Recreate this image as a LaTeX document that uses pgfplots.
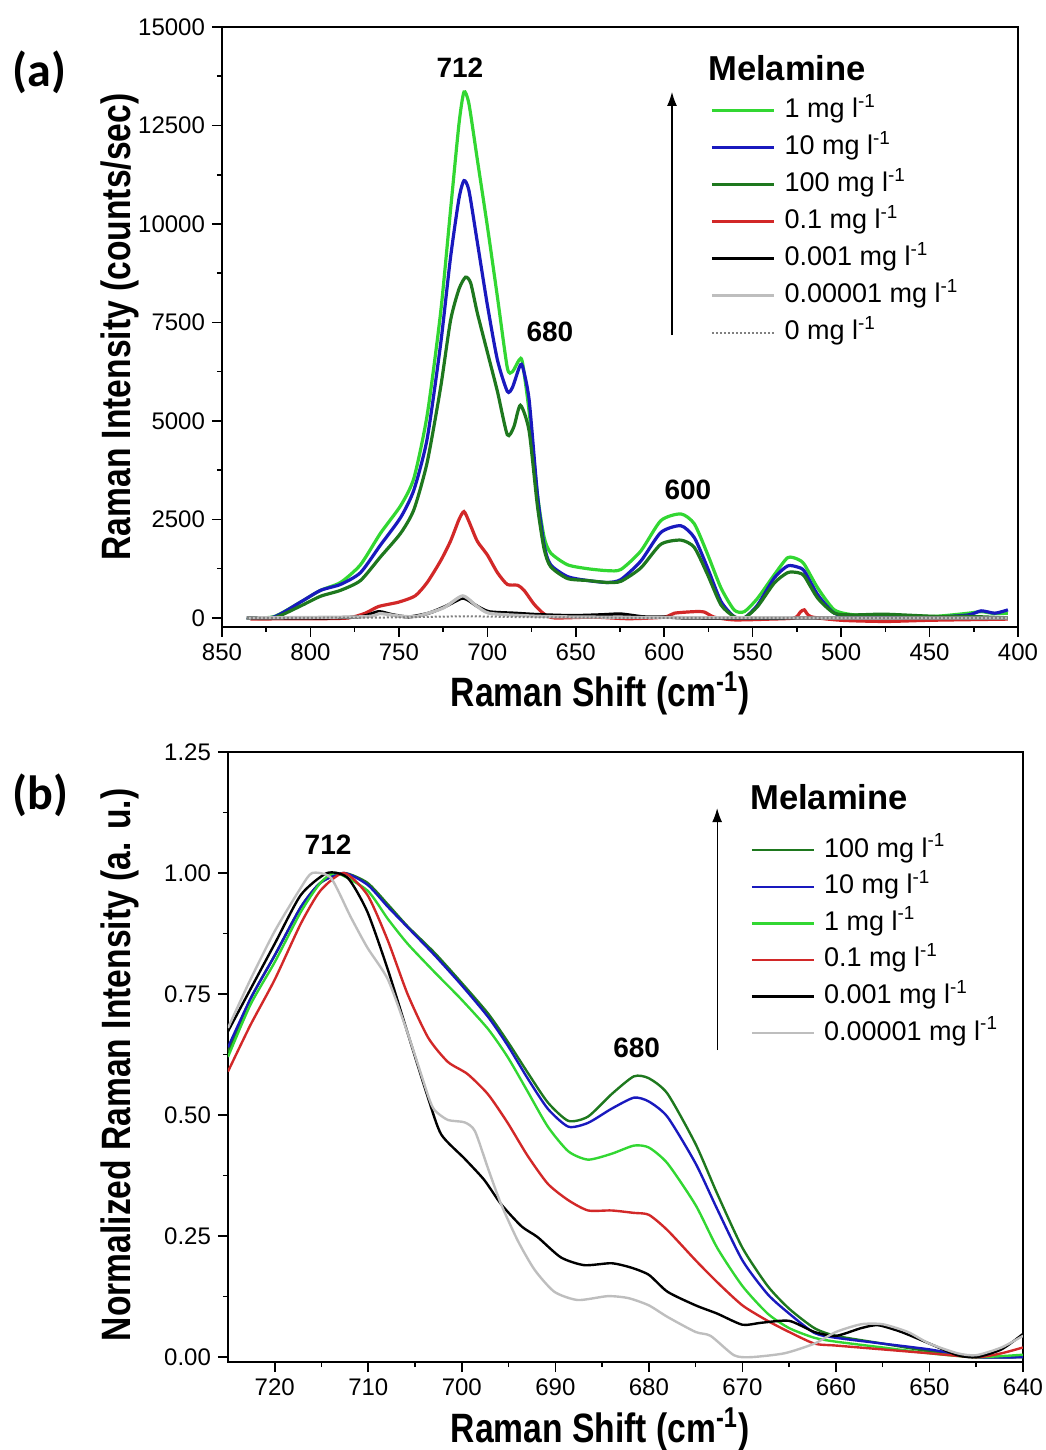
\documentclass[border=0pt]{standalone}
\usepackage{pgfplots}
\pgfplotsset{compat=1.18}
\usepackage{fontspec}
\setmainfont{Liberation Sans}
\newfontfamily\narrowfont[FakeStretch=0.82]{Liberation Sans}
\newfontfamily\panelfont{Carlito}
\usetikzlibrary{arrows.meta}
\definecolor{lgreen}{RGB}{50,215,50}
\definecolor{mblue}{RGB}{25,25,190}
\definecolor{dgreen}{RGB}{30,120,30}
\definecolor{mred}{RGB}{210,40,40}
\definecolor{lgray}{RGB}{190,190,190}
\pgfplotsset{
  ramanstyle/.style={
    scale only axis, x dir=reverse,
    tick align=outside, tick pos=left,
    major tick length=5pt, minor tick length=2.5pt,
    axis line style={line width=1pt},
    every tick/.style={black, line width=0.8pt},
    tick label style={font=\fontsize{12}{14}\selectfont},
    /pgf/number format/assume math mode=true,
    label style={font=\narrowfont\bfseries\fontsize{20.5}{24}\selectfont},
    legend cell align=left,
    legend image code/.code={\draw[##1] (0pt,0pt) -- (31pt,0pt);},
    every axis plot/.append style={smooth, tension=0.4},
  }
}
\begin{document}
\begin{tikzpicture}
\useasboundingbox (0,0) rectangle (522.5pt,725pt);
\node[font=\panelfont\bfseries\fontsize{24}{26}\selectfont, anchor=west, inner sep=0pt] at (6pt,689pt) {(a)};
\node[font=\panelfont\bfseries\fontsize{24}{26}\selectfont, anchor=west, inner sep=0pt] at (6pt,327.5pt) {(b)};

% ---------------- panel (a) ----------------
\begin{axis}[ramanstyle,
  at={(111pt,411.5pt)}, anchor=south west,
  width=398pt, height=300pt,
  xmin=400, xmax=850, ymin=-230, ymax=15000,
  xtick={400,450,...,850}, minor x tick num=1,
  ytick={0,2500,5000,7500,10000,12500,15000}, minor y tick num=1,
  scaled y ticks=false,
  yticklabel style={/pgf/number format/.cd, 1000 sep={}},
  xlabel={Raman Shift (cm\textsuperscript{-1})},
  ylabel={Raman Intensity (counts/sec)},
  xlabel style={at={(axis description cs:0.475,-0.11)}, anchor=center},
  ylabel style={at={(axis description cs:-0.128,0.5)}, anchor=center},
  legend style={at={(axis description cs:0.613,0.883)}, anchor=north west,
    draw=none, fill=none, inner sep=0pt, row sep=5.5pt, column sep=4.5pt,
    font=\fontsize{13.5}{16}\selectfont,
    nodes={inner sep=0pt, text height=10pt, text depth=3pt}},
]
\addplot[lgreen, line width=1.6pt] coordinates {
(835.8,0) (820.8,30) (805.7,400) (794.3,700) (783,900) (771.7,1350) (760.4,2150)
(749,2850) (741.5,3550) (734,5150) (726.4,7750) (720.8,10350) (716,12550) (713.2,13350)
(710.4,13050) (705.7,11650) (700,9950) (694.3,8150) (688.7,6350) (685.8,6250) (682,6550)
(680.2,6500) (676.4,5250) (671.7,3150) (667.9,2050) (664.2,1650) (654.7,1350) (643.4,1250)
(632.1,1200) (624.5,1230) (613.2,1700) (601.9,2470) (590.6,2640) (583,2390) (575.5,1620)
(567.9,760) (560.4,200) (554.7,160) (547.2,500) (537.7,1100) (530.2,1530) (524.5,1490)
(520.8,1360) (513.2,760) (503.8,205) (492.5,77) (475.5,80) (466,60) (447,40) (428,120)
(420.8,160) (413,110) (405.7,120)};
\addlegendentry{1 mg l\textsuperscript{-1}}
\addplot[mblue, line width=1.6pt] coordinates {
(836,0) (820.8,20) (805.7,400) (794.3,700) (783,850) (771.7,1150) (760.4,1850)
(749,2550) (741.5,3250) (734,4550) (726.4,6950) (720.8,9150) (716,10650) (713.2,11100)
(710.4,10850) (705.7,9550) (700,7950) (694.3,6550) (688.7,5750) (685.8,5850) (682,6350)
(680.2,6400) (676.4,5550) (671.7,3150) (667.9,1850) (664.2,1350) (654.7,1050) (643.4,950)
(632.1,900) (624.5,975) (613.2,1445) (601.9,2170) (590.6,2340) (583,2040) (575.5,1270)
(567.9,420) (560.4,30) (554.7,0) (547.2,330) (537.7,1020) (530.2,1320) (524.5,1290)
(520.8,1190) (513.2,590) (503.8,120) (492.5,35) (466,30) (447,20) (428,77) (420.8,180)
(413,120) (405.7,205)};
\addlegendentry{10 mg l\textsuperscript{-1}}
\addplot[dgreen, line width=1.6pt] coordinates {
(836,0) (820.8,0) (805.7,300) (794.3,550) (783,700) (771.7,950) (760.4,1550)
(749,2150) (741.5,2750) (734,3950) (726.4,5850) (720.8,7550) (716,8350) (712.3,8650)
(709.4,8500) (705.7,7750) (700,6750) (694.3,5750) (688.7,4650) (685,4850) (681.3,5400)
(676.4,4750) (671.7,2850) (667.9,1750) (664.2,1300) (654.7,1000) (643.4,950) (632.1,900)
(624.5,930) (613.2,1270) (601.9,1870) (590.6,1975) (583,1790) (575.5,1100) (567.9,330)
(560.4,30) (554.7,0) (547.2,290) (537.7,890) (530.2,1150) (524.5,1150) (520.8,1060)
(513.2,500) (503.8,120) (492.5,77) (475.5,95) (447,40) (428,40) (405.7,0)};
\addlegendentry{100 mg l\textsuperscript{-1}}
\addplot[mred, line width=1.6pt] coordinates {
(834,-30) (810,-20) (793.5,-20) (778.4,0) (769,120) (761.5,290) (750.2,400) (740.8,560)
(734,900) (726.4,1450) (720.8,1950) (716,2500) (713.2,2700) (710.4,2450) (705.7,1950)
(700,1600) (694.3,1150) (688.7,850) (683,830) (679.2,700) (673.6,350) (667.9,100)
(662,0) (640,20) (620,-20) (600,20) (594.3,120) (583,160) (577.4,150) (571.7,20)
(560.4,-50) (540,-30) (526.4,0) (523,150) (520.8,205) (517,30) (500,-60) (475,-90)
(450,-60) (405.7,-30)};
\addlegendentry{0.1 mg l\textsuperscript{-1}}
\addplot[black, line width=1.6pt] coordinates {
(836,0) (790,0) (770.9,35) (761.5,160) (754,85) (744.5,25) (733.2,120) (723.8,290)
(714.4,500) (710,430) (706.9,330) (699.3,160) (684.3,120) (671.1,85) (652.3,60)
(636,80) (624.5,100) (612,30) (598,20) (590,0) (560,-10) (500,0) (450,0) (405.7,0)};
\addlegendentry{0.001 mg l\textsuperscript{-1}}
\addplot[lgray, line width=1.6pt] coordinates {
(836,0) (770,30) (761,110) (750,50) (740,40) (725,250) (714,560) (706,300) (699,120)
(680,60) (660,30) (600,10) (500,0) (405.7,0)};
\addlegendentry{0.00001 mg l\textsuperscript{-1}}
\addplot[gray, densely dotted, line width=1pt] coordinates {
(836,0) (760,10) (714,40) (680,20) (650,10) (600,0) (500,0) (405.7,0)};
\addlegendentry{0 mg l\textsuperscript{-1}}
\node[font=\bfseries\fontsize{17.3}{20}\selectfont, anchor=west, inner sep=0pt] at (axis cs:575.3,13960) {Melamine};
\draw[-{Latex[length=7pt,width=5pt]}, line width=0.6pt] (axis cs:595.6,7180) -- (axis cs:595.6,13350);
\node[font=\bfseries\fontsize{14}{16}\selectfont] at (axis cs:715.5,13960) {712};
\node[font=\bfseries\fontsize{14}{16}\selectfont] at (axis cs:664.6,7260) {680};
\node[font=\bfseries\fontsize{14}{16}\selectfont] at (axis cs:586.6,3250) {600};
\end{axis}

% ---------------- panel (b) ----------------
\begin{axis}[ramanstyle,
  at={(114pt,44pt)}, anchor=south west,
  width=397.5pt, height=305pt,
  xmin=640, xmax=725, ymin=-0.01, ymax=1.25,
  xtick={640,650,...,720}, minor x tick num=1,
  ytick={0,0.25,0.5,0.75,1,1.25}, minor y tick num=1,
  yticklabel style={/pgf/number format/.cd, fixed, fixed zerofill, precision=2},
  xlabel={Raman Shift (cm\textsuperscript{-1})},
  ylabel={Normalized Raman Intensity (a. u.)},
  xlabel style={at={(axis description cs:0.468,-0.111)}, anchor=center},
  ylabel style={at={(axis description cs:-0.136,0.487)}, anchor=center},
  legend style={at={(axis description cs:0.657,0.861)}, anchor=north west,
    draw=none, fill=none, inner sep=0pt, row sep=5.3pt, column sep=4.5pt,
    font=\fontsize{13.5}{16}\selectfont,
    nodes={inner sep=0pt, text height=10pt, text depth=3pt}},
]
\addplot[dgreen, line width=1.2pt] coordinates {
(725,0.63) (722.6,0.74) (720,0.83) (717.2,0.93) (715.1,0.98) (712.6,1.0) (710.1,0.98)
(707.9,0.935) (705.8,0.89) (702.9,0.835) (700.1,0.775) (697.2,0.71) (695.1,0.652)
(693,0.589) (690.8,0.526) (688.6,0.488) (686.5,0.497) (684,0.543) (681.6,0.58)
(680,0.576) (678,0.544) (675,0.44) (672.7,0.338) (670,0.226) (667.3,0.147) (665,0.1)
(662.3,0.06) (660,0.044) (655,0.028) (650,0.012) (645,0.0) (640,0.0)};
\addlegendentry{100 mg l\textsuperscript{-1}}
\addplot[mblue, line width=1.2pt] coordinates {
(725,0.64) (722.6,0.74) (720,0.83) (717.2,0.93) (715.1,0.98) (712.6,1.0) (710.1,0.976)
(707.9,0.93) (705.8,0.888) (702.9,0.83) (700.1,0.77) (697.2,0.703) (695.1,0.644)
(693,0.577) (690.8,0.513) (688.6,0.476) (686.5,0.484) (684,0.513) (681.6,0.536)
(680,0.528) (678,0.496) (675,0.40) (672.7,0.306) (670,0.2) (667.3,0.13) (665,0.09)
(662.3,0.05) (660,0.04) (655,0.028) (650,0.016) (645,0.0) (640,0.0)};
\addlegendentry{10 mg l\textsuperscript{-1}}
\addplot[lgreen, line width=1.2pt] coordinates {
(725,0.62) (722.6,0.728) (720,0.816) (717.2,0.92) (715.1,0.98) (713.4,1.0) (710.1,0.964)
(707.9,0.905) (705.8,0.854) (702.9,0.795) (700.1,0.74) (697.2,0.678) (695.1,0.62)
(693,0.55) (690.8,0.476) (688.6,0.425) (686.5,0.408) (684,0.42) (681.6,0.437)
(680,0.433) (678,0.40) (675,0.314) (672.7,0.226) (670,0.147) (667.3,0.09) (665,0.06)
(662.3,0.04) (660,0.032) (655,0.02) (650,0.008) (645,0.0) (640,0.005)};
\addlegendentry{1 mg l\textsuperscript{-1}}
\addplot[mred, line width=1.2pt] coordinates {
(725,0.59) (722.6,0.686) (720,0.78) (717.2,0.896) (715.1,0.964) (712.6,1.0) (710.1,0.955)
(707.9,0.86) (705.8,0.75) (703.6,0.66) (701.5,0.61) (699.4,0.585) (697.2,0.543)
(695.1,0.484) (693,0.417) (690.8,0.358) (688.6,0.324) (686.5,0.303) (684,0.303)
(681.6,0.298) (680,0.294) (678,0.262) (675,0.2) (672.7,0.155) (670,0.107) (667.3,0.075)
(665,0.052) (662.3,0.028) (660,0.024) (655,0.016) (650,0.008) (645,0.0) (642.3,0.008) (640,0.02)};
\addlegendentry{0.1 mg l\textsuperscript{-1}}
\addplot[black, line width=1.2pt] coordinates {
(725,0.673) (722.6,0.76) (720,0.854) (717.2,0.955) (714.4,1.0) (712.2,0.99) (710.1,0.92)
(707.9,0.80) (705.8,0.67) (703.6,0.535) (702.2,0.46) (699.7,0.41) (697.6,0.366)
(695.8,0.316) (693.6,0.27) (691.9,0.248) (689.4,0.206) (686.9,0.19) (684,0.194)
(681.9,0.185) (680,0.17) (678,0.135) (675,0.107) (672.7,0.09) (670,0.067) (668,0.071)
(665,0.075) (662.3,0.052) (660,0.044) (657.3,0.06) (655.5,0.066) (653,0.052) (650,0.028)
(647,0.004) (645,0.0) (642.3,0.016) (640,0.048)};
\addlegendentry{0.001 mg l\textsuperscript{-1}}
\addplot[lgray, line width=1.2pt] coordinates {
(725,0.68) (722.6,0.78) (720,0.88) (717.2,0.97) (716,1.0) (714,0.99) (711.9,0.91)
(710.1,0.846) (707.9,0.78) (705.8,0.67) (703.6,0.54) (702.9,0.51) (701.5,0.49)
(699.7,0.485) (698.6,0.467) (697.2,0.39) (695.8,0.316) (694,0.24) (692.2,0.18)
(690.1,0.135) (687.6,0.118) (684.4,0.126) (682.2,0.122) (680,0.107) (678,0.083)
(675,0.052) (673.4,0.044) (670.9,0.004) (669.1,0.0) (665.5,0.008) (662.3,0.028)
(660,0.052) (657.3,0.068) (655,0.068) (652.3,0.052) (650,0.028) (647,0.008) (645,0.004)
(642.3,0.02) (640,0.044)};
\addlegendentry{0.00001 mg l\textsuperscript{-1}}
\node[font=\bfseries\fontsize{17.3}{20}\selectfont, anchor=west, inner sep=0pt] at (axis cs:669.2,1.157) {Melamine};
\draw[-{Latex[length=7pt,width=5pt]}, line width=0.6pt] (axis cs:672.7,0.634) -- (axis cs:672.7,1.134);
\node[font=\bfseries\fontsize{14}{16}\selectfont] at (axis cs:714.3,1.058) {712};
\node[font=\bfseries\fontsize{14}{16}\selectfont] at (axis cs:681.3,0.638) {680};
\end{axis}
\end{tikzpicture}
\end{document}
